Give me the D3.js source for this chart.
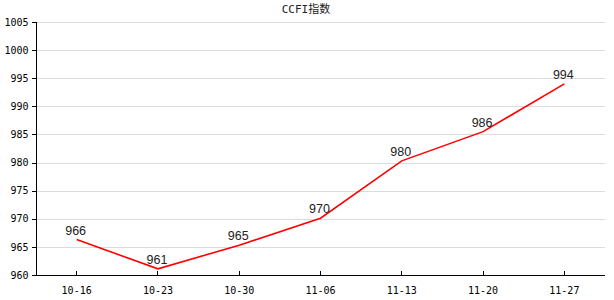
<!DOCTYPE html>
<html>
<head>
<meta charset="utf-8">
<script src="https://cdn.jsdelivr.net/npm/d3@7"></script>
<style>
body { margin: 0; background: #fff; }
.axis path, .axis line { stroke: #000; shape-rendering: crispEdges; }
.axis text { font-family: "DejaVu Sans Mono", monospace; font-size: 10px; fill: #000; }
.grid line { stroke: #dcdcdc; shape-rendering: crispEdges; }
</style>
</head>
<body>
<div id="chart"></div>
<script>
// week labels and index values
var dates = ['10-16', '10-23', '10-30', '11-06', '11-13', '11-20', '11-27']
var values = [966.3, 961.1, 965.3, 970.1, 980.3, 985.5, 994.0]
var labels = ['966', '961', '965', '970', '980', '986', '994']
var yTicks = [960, 965, 970, 975, 980, 985, 990, 995, 1000, 1005]

var width = 614, height = 300
var plotLeft = 36, plotRight = 605, plotTop = 22, plotBottom = 275

var svg = d3.select('#chart').append('svg')
	.attr('width', width)
	.attr('height', height)

var x = d3.scaleBand().domain(dates).range([plotLeft, plotRight])
var y = d3.scaleLinear().domain([960, 1005]).range([plotBottom, plotTop])

// gridlines
svg.append('g').attr('class', 'grid')
	.selectAll('line')
	.data(yTicks.slice(1)).enter().append('line')
	.attr('x1', plotLeft).attr('x2', plotRight)
	.attr('y1', function(d){ return Math.round(y(d)) + 0.5 })
	.attr('y2', function(d){ return Math.round(y(d)) + 0.5 })

// title
svg.append('text')
	.attr('x', 306).attr('y', 13)
	.attr('text-anchor', 'middle')
	.style('font-family', '"DejaVu Sans Mono", "Noto Sans CJK SC", monospace')
	.style('font-size', '11px')
	.style('fill', '#222')
	.text('CCFI指数')

// y axis
var yAxis = svg.append('g').attr('class', 'axis')
	.attr('transform', 'translate(' + (plotLeft + 0.5) + ',0)')
	.call(d3.axisLeft(y).tickValues(yTicks).tickFormat(d3.format('d')).tickSize(5).tickSizeOuter(0).tickPadding(3))
yAxis.select('.domain').attr('d', 'M0,' + plotTop + 'V' + plotBottom)

// x axis, ticks pointing up
var xAxis = svg.append('g').attr('class', 'axis')
	.attr('transform', 'translate(0,' + (plotBottom + 0.5) + ')')
	.call(d3.axisBottom(x).tickSize(0).tickPadding(11).tickSizeOuter(0))
xAxis.selectAll('.tick line').attr('y2', -5)
xAxis.select('.domain').attr('d', 'M' + plotLeft + ',0H' + plotRight)

var cx = function(d, i){ return x(dates[i]) + x.bandwidth() / 2 }

// line
var line = d3.line()
	.x(cx)
	.y(function(d){ return y(d) })

svg.append('path')
	.datum(values)
	.attr('d', line)
	.attr('fill', 'none')
	.attr('stroke', '#ff0000')
	.attr('stroke-width', 1.6)

// value labels
svg.selectAll('.vlabel')
	.data(values).enter().append('text')
	.attr('class', 'vlabel')
	.attr('x', function(d, i){ return cx(d, i) - 1 })
	.attr('y', function(d){ return y(d) - 5 })
	.attr('text-anchor', 'middle')
	.style('font-family', '"Liberation Sans", Arial, sans-serif')
	.style('font-size', '12.5px')
	.style('fill', '#222')
	.text(function(d, i){ return labels[i] })
</script>
</body>
</html>
